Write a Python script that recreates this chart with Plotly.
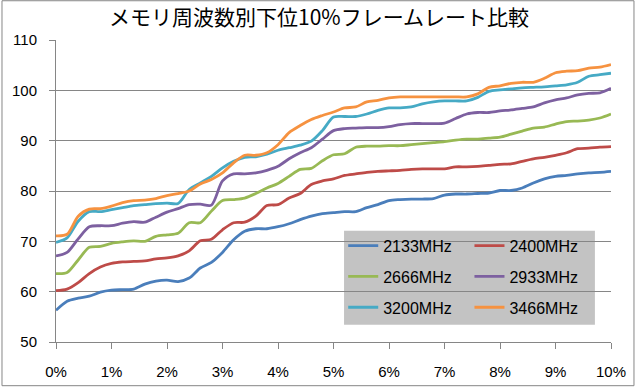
import plotly.graph_objects as go

x_pct = [round(i * 0.2, 1) for i in range(51)]

s2133 = [56.3, 58.1, 58.7, 59.1, 59.9, 60.3, 60.4, 60.5, 61.5, 62.1, 62.3, 62.0, 62.7, 64.7, 65.8, 67.8,
         70.3, 72.0, 72.5, 72.5, 72.9, 73.5, 74.3, 75.0, 75.5, 75.7, 75.9, 75.9, 76.7, 77.3, 78.1, 78.3,
         78.4, 78.4, 78.5, 79.2, 79.4, 79.4, 79.5, 79.6, 80.1, 80.1, 80.6, 81.6, 82.4, 82.9, 83.1, 83.4,
         83.6, 83.7, 83.9]
s2400 = [60.2, 60.5, 61.8, 63.6, 64.9, 65.6, 65.9, 66.0, 66.1, 66.5, 66.7, 67.1, 68.1, 70.1, 70.4, 72.3,
         73.7, 73.8, 75.0, 77.1, 77.3, 78.6, 79.5, 81.3, 82.0, 82.4, 83.1, 83.4, 83.7, 83.9, 84.0, 84.1,
         84.3, 84.4, 84.4, 84.4, 84.8, 84.8, 84.9, 85.1, 85.3, 85.4, 85.9, 86.4, 86.7, 87.1, 87.6, 88.4,
         88.5, 88.7, 88.8]
s2666 = [63.6, 63.8, 66.3, 68.8, 69.0, 69.6, 69.9, 70.1, 70.0, 71.0, 71.3, 71.6, 73.7, 73.7, 76.0, 78.1,
         78.3, 78.6, 79.5, 80.6, 81.5, 82.9, 84.3, 84.5, 86.0, 87.2, 87.4, 88.7, 88.9, 88.9, 89.0, 89.0,
         89.2, 89.4, 89.6, 89.8, 90.1, 90.3, 90.3, 90.5, 90.7, 91.3, 91.9, 92.5, 92.7, 93.3, 93.8, 93.9,
         94.1, 94.5, 95.3]
s2933 = [67.1, 67.8, 70.5, 72.9, 73.1, 73.1, 73.6, 73.9, 73.8, 74.8, 75.8, 76.5, 77.3, 77.4, 77.2, 82.0,
         83.4, 83.4, 83.6, 84.1, 84.9, 86.4, 87.6, 88.6, 90.3, 92.0, 92.4, 92.5, 92.6, 92.6, 92.8, 93.2,
         93.4, 93.4, 93.4, 93.5, 94.4, 95.3, 95.6, 95.6, 95.9, 96.1, 96.4, 96.7, 97.5, 98.1, 98.5, 99.1,
         99.4, 99.5, 100.4]
s3200 = [69.8, 70.7, 74.0, 75.9, 75.9, 76.3, 76.7, 77.1, 77.3, 77.5, 77.6, 77.5, 80.3, 81.6, 82.9, 84.6,
         85.9, 86.7, 86.8, 87.3, 88.1, 88.6, 89.1, 89.9, 92.0, 94.7, 94.8, 94.8, 95.3, 96.0, 96.5, 96.5,
         96.7, 97.3, 97.7, 97.9, 97.9, 97.9, 98.6, 99.8, 100.1, 100.3, 100.5, 100.6, 100.7, 100.9, 101.1,
         101.6, 102.8, 103.1, 103.4]
s3466 = [71.1, 71.4, 75.0, 76.4, 76.5, 77.0, 77.7, 78.1, 78.2, 78.5, 79.1, 79.5, 80.0, 81.4, 82.3, 83.6,
         85.6, 87.1, 87.1, 87.6, 89.2, 91.6, 93.0, 94.2, 95.0, 95.7, 96.5, 96.7, 97.7, 98.0, 98.5, 98.7,
         98.7, 98.7, 98.7, 98.7, 98.7, 98.7, 99.3, 100.6, 100.9, 101.4, 101.6, 101.6, 102.4, 103.5, 103.8,
         103.9, 104.4, 104.6, 105.1]

series_names = ["2133MHz", "2400MHz", "2666MHz", "2933MHz", "3200MHz", "3466MHz"]
series_values = [s2133, s2400, s2666, s2933, s3200, s3466]
series_colors = ["#4A7EBB", "#BE4B48", "#98B954", "#7D60A0", "#46AAC5", "#F69240"]
series_legend = ["legend", "legend2", "legend", "legend2", "legend", "legend2"]

x_tickvals = list(range(11))
x_ticktext = [f"{v}%" for v in x_tickvals]
y_tickvals = [50, 60, 70, 80, 90, 100, 110]

title_text = "メモリ周波数別下位10%フレームレート比較"

fig = go.Figure()
for name, vals, col, lg in zip(series_names, series_values, series_colors, series_legend):
    fig.add_trace(go.Scatter(
        x=x_pct, y=vals, name=name, mode="lines",
        line=dict(color=col, width=2.8, shape="spline", smoothing=0.8),
        legend=lg, legendgroup=name,
    ))

grid = "#868686"
legend_font = dict(family="Liberation Sans", size=16, color="#000000")
fig.update_layout(
    width=638, height=387,
    margin=dict(l=56, r=27, t=40, b=45, autoexpand=False),
    paper_bgcolor="white", plot_bgcolor="rgba(0,0,0,0)",
    title=dict(text=title_text, x=0.5, xref="container", xanchor="center",
               y=1 - 18 / 387, yref="container", yanchor="middle",
               font=dict(family="Noto Sans CJK JP", size=21, color="#000000")),
    font=dict(family="Liberation Sans", size=15, color="#000000"),
    xaxis=dict(range=[0, 10], tickvals=x_tickvals, ticktext=x_ticktext,
               showgrid=False, showline=True, linecolor=grid, linewidth=1,
               ticks="outside", ticklen=6, tickcolor=grid, zeroline=False,
               ticklabelstandoff=10,
               tickfont=dict(size=15, color="#000000")),
    yaxis=dict(range=[50, 110], tickvals=y_tickvals,
               showgrid=True, gridcolor=grid, gridwidth=1,
               showline=True, linecolor=grid, linewidth=1,
               ticks="outside", ticklen=6, tickcolor=grid, zeroline=False,
               ticklabelstandoff=9,
               tickfont=dict(size=15, color="#000000")),
    legend=dict(x=0.5175, y=0.375, xanchor="left", yanchor="top",
                bgcolor="rgba(0,0,0,0)", tracegroupgap=7, font=legend_font),
    legend2=dict(x=0.745, y=0.375, xanchor="left", yanchor="top",
                 bgcolor="rgba(0,0,0,0)", tracegroupgap=7, font=legend_font),
    shapes=[
        dict(type="rect", xref="paper", yref="paper", x0=0.519, x1=0.971, y0=0.057, y1=0.3685,
             fillcolor="#C3C3C3", line=dict(width=0), layer="between"),
        dict(type="rect", xref="paper", yref="paper", x0=-0.0973, x1=1.0414, y0=-0.1447, y1=1.130,
             fillcolor="rgba(0,0,0,0)", line=dict(color=grid, width=1), layer="below"),
    ],
)

fig.write_html("out.html", config={"displayModeBar": False},
               post_script="document.body.style.margin='0';document.body.style.overflow='hidden';")
